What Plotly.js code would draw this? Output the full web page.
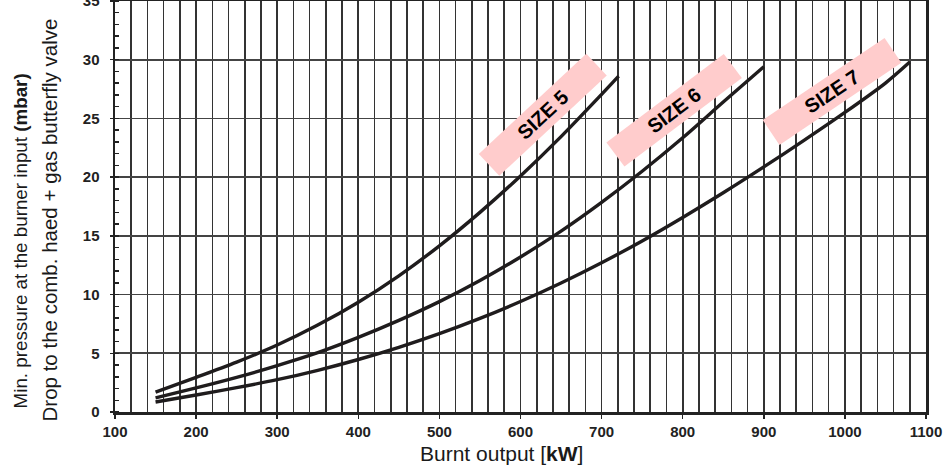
<!DOCTYPE html>
<html><head><meta charset="utf-8">
<script src="https://cdn.plot.ly/plotly-3.0.1.min.js"></script>
<style>html,body{margin:0;padding:0;background:#fff}#chart{width:944px;height:470px}</style>
</head><body><div id="chart"></div>
<script>
// Burnt output [kW] and min. pressure [mbar]
const output5 = [150, 200, 250, 300, 350, 400, 450, 500, 550, 600, 650, 700, 721];
const pressure5 = [1.7, 2.95, 4.25, 5.7, 7.4, 9.35, 11.6, 14.15, 17.0, 20.1, 23.45, 27.05, 28.6];
const output6 = [150, 200, 250, 300, 350, 400, 450, 500, 550, 600, 650, 700, 750, 800, 850, 900];
const pressure6 = [1.2, 2.05, 2.95, 3.95, 5.05, 6.35, 7.8, 9.4, 11.2, 13.2, 15.4, 17.85, 20.5, 23.35, 26.4, 29.4];
const output7 = [150, 200, 250, 300, 350, 400, 450, 500, 550, 600, 650, 700, 750, 800, 850, 900, 950, 1000, 1050, 1080];
const pressure7 = [0.85, 1.45, 2.07, 2.75, 3.55, 4.47, 5.51, 6.67, 7.97, 9.41, 10.99, 12.71, 14.57, 16.57, 18.67, 20.87, 23.15, 25.51, 28.01, 29.8];
const seriesNames = ["SIZE 5", "SIZE 6", "SIZE 7"];
const xTickValues = [100, 200, 300, 400, 500, 600, 700, 800, 900, 1000, 1100];
const yTickValues = [0, 5, 10, 15, 20, 25, 30, 35];

const font = "Liberation Sans, Arial, sans-serif";
const lineStyle = {color: "#1f1c1d", width: 3.4, shape: "spline", smoothing: 0.8};
const traces = [
  {x: output5, y: pressure5, name: seriesNames[0], mode: "lines", line: lineStyle},
  {x: output6, y: pressure6, name: seriesNames[1], mode: "lines", line: lineStyle},
  {x: output7, y: pressure7, name: seriesNames[2], mode: "lines", line: lineStyle}
];

const labelBox = (text, x, y, angle) => ({
  text: "<b>" + text + "</b>", x: x, y: y, xref: "x", yref: "y",
  showarrow: false, textangle: angle, bgcolor: "#ffcccc",
  width: 144, height: 27, xanchor: "center", yanchor: "middle",
  font: {family: font, size: 20, color: "#000"}
});

const layout = {
  width: 944, height: 470,
  margin: {l: 115, r: 18, t: 1, b: 58},
  paper_bgcolor: "#fff", plot_bgcolor: "#fff",
  showlegend: false,
  xaxis: {
    range: [100, 1100], tickvals: xTickValues, ticktext: xTickValues.map(String),
    showgrid: true, gridcolor: "#333", gridwidth: 1.6,
    minor: {dtick: 20, tick0: 100, showgrid: true, gridcolor: "#333", gridwidth: 1.6, ticks: ""},
    ticks: "outside", ticklen: 4, tickwidth: 1.5, tickcolor: "#222",
    showline: true, linecolor: "#222", linewidth: 2.5, mirror: true,
    zeroline: false, ticklabeloverflow: "allow",
    tickfont: {family: font, size: 15, color: "#222", weight: "bold"}
  },
  yaxis: {
    range: [0, 35], tickvals: yTickValues, ticktext: yTickValues.map(String),
    showgrid: true, gridcolor: "#444", gridwidth: 1.6,
    minor: {dtick: 1, tick0: 0, showgrid: false, ticks: "inside", ticklen: 4, tickwidth: 1.5, tickcolor: "#222"},
    ticks: "outside", ticklen: 3, tickwidth: 1.5, tickcolor: "#222",
    showline: true, linecolor: "#222", linewidth: 2.5, mirror: true,
    zeroline: false, ticklabeloverflow: "allow", ticklabelstandoff: 7,
    tickfont: {family: font, size: 15, color: "#222", weight: "bold"}
  },
  annotations: [
    labelBox(seriesNames[0], 628, 25.3, -43),
    labelBox(seriesNames[1], 789, 25.7, -37),
    labelBox(seriesNames[2], 984, 27.3, -34),
    {text: "Min. pressure at the burner input <b>(mbar)</b>", xref: "paper", yref: "paper",
     x: 0, y: 0.415, xshift: -95, xanchor: "center", yanchor: "middle", textangle: -90,
     showarrow: false, font: {family: font, size: 18.8, color: "#1a1a1a"}},
    {text: "Drop to the comb. haed + gas butterfly valve", xref: "paper", yref: "paper",
     x: 0, y: 0.466, xshift: -66, xanchor: "center", yanchor: "middle", textangle: -90,
     showarrow: false, font: {family: font, size: 20.5, color: "#1a1a1a"}},
    {text: "Burnt output [<b>kW</b>]", xref: "x", yref: "paper",
     x: 576, y: -0.1, xanchor: "center", yanchor: "middle",
     showarrow: false, font: {family: font, size: 21, color: "#1a1a1a"}}
  ]
};

Plotly.newPlot("chart", traces, layout, {displayModeBar: false, staticPlot: true});
</script>
</body></html>
